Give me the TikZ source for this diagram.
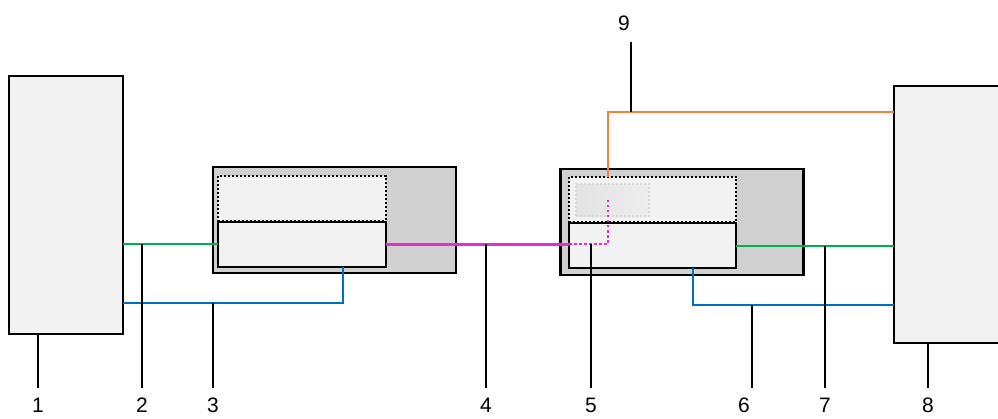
\documentclass[tikz,border=0pt]{standalone}
\usepackage{fontspec}
\setmainfont{Liberation Sans}
\definecolor{boxfill}{HTML}{F2F2F2}
\definecolor{modfill}{HTML}{D0D0D0}
\definecolor{linegreen}{HTML}{00B050}
\definecolor{lineblue}{HTML}{0070C0}
\definecolor{linemag}{HTML}{E62ECC}
\definecolor{lineorange}{HTML}{F58232}

\begin{document}
\begin{tikzpicture}[x=0.75pt, y=-0.75pt,
    dev/.style={rectangle, draw, line width=1.5pt, fill=boxfill, inner sep=0pt, outer sep=0pt},
    module/.style={rectangle, draw, line width=1.8pt, fill=modfill, minimum width=182pt, minimum height=79.5pt, inner sep=0pt, outer sep=0pt},
    cfgbox/.style={rectangle, draw, line width=1.5pt, dash pattern=on 1.5pt off 1.5pt, fill=boxfill, minimum width=125.5pt, minimum height=33.75pt, inner sep=0pt, outer sep=0pt},
    portbox/.style={rectangle, draw, line width=1.5pt, fill=boxfill, minimum width=125.5pt, minimum height=33.75pt, inner sep=0pt, outer sep=0pt},
    wire/.style={line width=1.5pt},
    leader/.style={line width=1.5pt},
    num/.style={inner sep=0pt, font=\fontsize{15.7}{18}\selectfont}]

    \useasboundingbox (0,0) rectangle (998,418);

    % end devices
    \node[dev, minimum width=85.5pt, minimum height=193.5pt] (dev1) at (66,205) {};
    \node[dev, minimum width=88.5pt, minimum height=192.75pt] (dev8) at (953,214.5) {};

    % modules
    \node[module] (modA) at (334.5,220) {};
    \node[cfgbox] (cfgA) at (302,198.5) {};
    \node[portbox] (portA) at (302,244) {};

    \node[module] (modB) at (682,222) {};
    \node[cfgbox] (cfgB) at (652.5,199.5) {};
    \node[rectangle, draw=gray!30, line width=1.5pt, dash pattern=on 1.5pt off 1.5pt, left color=gray!22, right color=gray!14, minimum width=54.75pt, minimum height=24pt, inner sep=0pt, outer sep=0pt] (chip) at (612.5,200) {};
    \node[portbox] (portB) at (652.5,245.5) {};

    % wires
    \coordinate (bendA) at (343,303);
    \coordinate (tapB) at (608,244);
    \coordinate (bendB) at (608,112);
    \coordinate (bendC) at (693,305);

    \draw[wire, linegreen] (dev1.east |- portA.west) -- (portA.west);
    \draw[wire, lineblue] (dev1.east |- bendA) -- (bendA) -- (bendA |- portA.south);
    \draw[line width=2.25pt, linemag] (portA.east) -- (portA.east -| portB.west);
    \draw[line width=2pt, linemag, dash pattern=on 2pt off 1.8pt] (portA.east -| portB.west) -- (tapB) -- (tapB |- chip.center);
    \draw[wire, lineorange] (bendB |- cfgB.north) -- (bendB) -- (bendB -| dev8.west);
    \draw[wire, linegreen] (portB.east) -- (portB.east -| dev8.west);
    \draw[wire, lineblue] (bendC |- portB.south) -- (bendC) -- (bendC -| dev8.west);

    % numbers
    \node[num] (lab1) at (38,405) {1};
    \node[num] (lab2) at (142,405) {2};
    \node[num] (lab3) at (213,405) {3};
    \node[num] (lab4) at (486,405) {4};
    \node[num] (lab5) at (591,405) {5};
    \node[num] (lab6) at (744,405) {6};
    \node[num] (lab7) at (825,405) {7};
    \node[num] (lab8) at (928,405) {8};
    \node[num] (lab9) at (624,23) {9};

    \coordinate (tick6) at (752,305);
    \coordinate (tick9) at (631,112);

    \draw[leader] (lab1.center |- 0,388) -- (lab1.center |- dev1.south);
    \draw[leader] (lab2.center |- 0,388) -- (lab2.center |- portA.west);
    \draw[leader] (lab3.center |- 0,388) -- (lab3.center |- bendA);
    \draw[leader] (lab4.center |- 0,388) -- (lab4.center |- portA.east);
    \draw[leader] (lab5.center |- 0,388) -- (lab5.center |- portA.east);
    \draw[leader] (tick6 |- 0,388) -- (tick6);
    \draw[leader] (lab7.center |- 0,388) -- (lab7.center |- portB.east);
    \draw[leader] (lab8.center |- 0,388) -- (lab8.center |- dev8.south);
    \draw[leader] (tick9 |- 0,42) -- (tick9);
\end{tikzpicture}
\end{document}
